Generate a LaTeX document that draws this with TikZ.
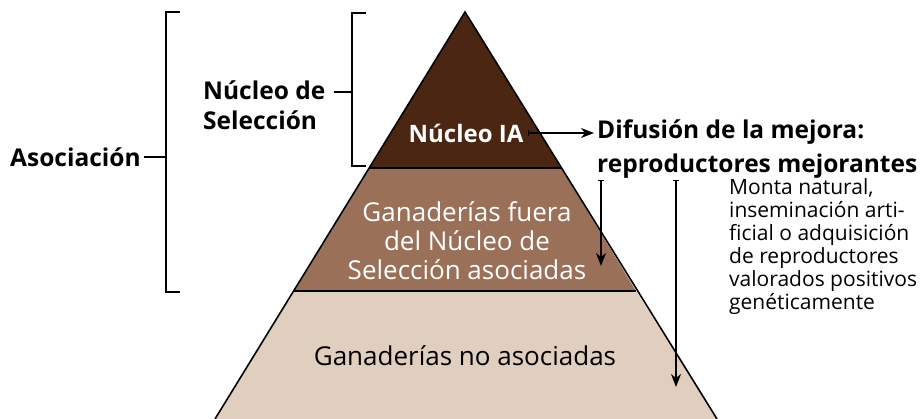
\documentclass[tikz,border=0pt]{standalone}
\usepackage{fontspec}
\setmainfont{Open Sans}
\usetikzlibrary{arrows.meta, positioning}
\definecolor{nucleoBrown}{HTML}{4B2612}
\definecolor{fueraBrown}{HTML}{9A7059}
\definecolor{noasocBeige}{HTML}{E0CEBE}
\tikzstyle{edge} = [line width=1.6pt, line join=miter]
\tikzstyle{bracket} = [line width=1.5pt]
\tikzstyle{toplabel} = [text=white, font=\fontsize{24}{28}\selectfont\bfseries, inner sep=0pt]
\tikzstyle{midlabel} = [text=white, font=\fontsize{26}{29}\selectfont, align=center, inner sep=0pt]
\tikzstyle{botlabel} = [text=black, font=\fontsize{26}{29}\selectfont, inner sep=0pt]
\tikzstyle{sidelabel} = [text=black, font=\fontsize{24.5}{30}\selectfont\bfseries, align=left, inner sep=0pt]
\tikzstyle{notelabel} = [text=black, font=\fontsize{21}{23}\selectfont, align=left, inner sep=0pt]
\tikzstyle{arrow} = [line width=1.2pt, {Bar[width=6pt]}-{Stealth[length=13pt, width=10pt, inset=4pt]}]

\begin{document}
\begin{tikzpicture}[x=1pt, y=-1pt]
	\useasboundingbox (0,0) rectangle (923,419);
	% pyramid corners
	\coordinate (apex) at (465,12);
	\coordinate (l1) at (369,168);
	\coordinate (r1) at (561,168);
	\coordinate (l2) at (294,291);
	\coordinate (r2) at (636,291);
	\coordinate (bl) at (215,419);
	\coordinate (br) at (717,419);
	\fill [noasocBeige] (l2) -- (r2) -- (br) -- (bl) -- cycle;
	\fill [fueraBrown] (l1) -- (r1) -- (r2) -- (l2) -- cycle;
	\fill [nucleoBrown] (apex) -- (r1) -- (l1) -- cycle;
	\draw [edge] (bl) -- (apex) -- (br);
	\draw [edge] (l1) -- (r1);
	\draw [edge] (l2) -- (r2);
	% labels
	\node (ia) at (466,133) [toplabel] {Núcleo IA};
	\node (fuera) at (467,241) [midlabel] {Ganaderías fuera\\del Núcleo de\\Selección asociadas};
	\node (noasoc) at (465,356) [botlabel] {Ganaderías no asociadas};
	\node (difusion) at (597,149) [sidelabel, anchor=west, font=\fontsize{24.5}{34}\selectfont\bfseries] {Difusión de la mejora:\\reproductores mejorantes};
	\node (monta) at (729,178) [notelabel, anchor=north west] {Monta natural,\\inseminación arti-\\ficial o adquisición\\de reproductores\\valorados positivos\\genéticamente};
	\node (nucsel) at (203,105) [sidelabel, anchor=west] {Núcleo de\\Selección};
	\node (asoc) at (10,157) [sidelabel, anchor=west] {Asociación};
	% brackets
	\coordinate (asocbar) at (166,157);
	\coordinate (nucbar) at (352,92);
	\draw [bracket] (180,12) -- (166,12) -- (166,292) -- (180,292);
	\draw [bracket] (366,13) -- (352,13) -- (352,166) -- (366,166);
	\draw [bracket] ([xshift=3pt]asoc.east) -- (asocbar);
	\draw [bracket] (334,92) -- (nucbar);
	% arrows
	\coordinate (down1s) at (601,180);
	\coordinate (down1e) at (601,266);
	\coordinate (down2s) at (676,180);
	\coordinate (down2e) at (676,387);
	\draw [arrow] ([xshift=4pt]ia.east) -- ([xshift=-3pt]ia.east -| difusion.west);
	\draw [arrow] (down1s) -- (down1e);
	\draw [arrow] (down2s) -- (down2e);
\end{tikzpicture}
\end{document}
